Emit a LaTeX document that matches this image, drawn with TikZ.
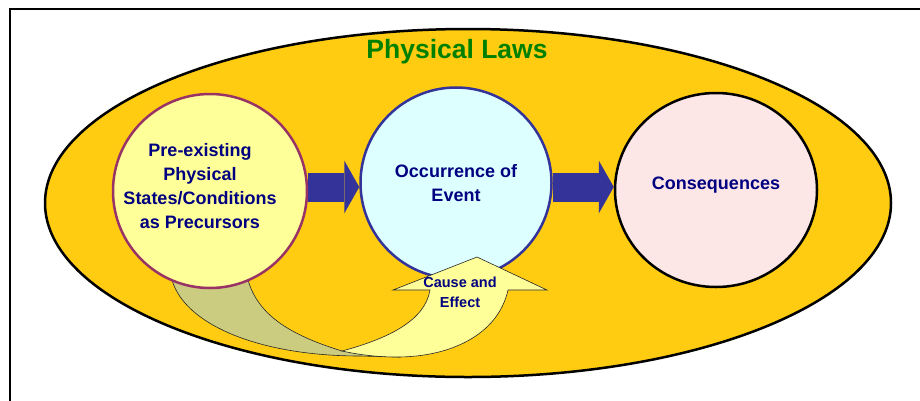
\documentclass[tikz,border=0pt]{standalone}
\usepackage{fontspec}
\setmainfont{Liberation Sans}
\usetikzlibrary{arrows.meta,calc,shapes.geometric}
\definecolor{gold}{HTML}{FFCC11}
\definecolor{navy}{HTML}{000080}
\definecolor{lawgreen}{HTML}{008000}
\definecolor{preFill}{HTML}{FFFF99}
\definecolor{preLine}{HTML}{993366}
\definecolor{occFill}{HTML}{DDFFFF}
\definecolor{occLine}{HTML}{333399}
\definecolor{conFill}{HTML}{FDE6E6}
\definecolor{arrowblue}{HTML}{333399}
\definecolor{olive}{HTML}{CCCC80}
\definecolor{lightyellow}{HTML}{FFFF99}
\pgfdeclarelayer{back}
\pgfsetlayers{back,main}
\tikzset{
  circ/.style={circle, inner sep=0pt, line width=2.5pt},
  label18/.style={font=\bfseries\fontsize{18}{24}\selectfont, text=navy, align=center, inner sep=0pt},
  blockarrow/.style={draw=arrowblue, line width=29pt,
     -{Triangle[length=15pt,width=53pt,line width=0pt]}},
  band/.style={draw=black!85, line width=0.6pt},
}
\begin{document}
\begin{tikzpicture}[x=1pt,y=-1pt]
\useasboundingbox (0,0) rectangle (920,400);
\begin{pgfonlayer}{back}
  \draw[line width=2pt] (10,402) -- (10,9) -- (922,9);
  \node[ellipse, draw=black, line width=2.5pt, fill=gold,
        minimum width=846pt, minimum height=348pt, inner sep=0pt] (laws) at (468,203) {};
  \filldraw[band, fill=olive] (172,280) .. controls (185,325) and (260,356) .. (360,356)
     -- (400,357) -- (342,351) .. controls (290,335) and (258,315) .. (248,280) -- cycle;
\end{pgfonlayer}
\node[font=\bfseries\fontsize{26.5}{30}\selectfont, text=lawgreen, inner sep=0pt] (title) at (457,52) {Physical Laws};

\node[circ, draw=preLine, fill=preFill, minimum size=194pt] (pre) at (210,191) {};
\node[circ, draw=occLine, fill=occFill, minimum size=191pt] (occ) at (456,183) {};
\node[ellipse, inner sep=0pt, line width=2.5pt, draw=black, fill=conFill,
      minimum width=202pt, minimum height=194pt] (con) at (716,190) {};

\node[label18] (pretext) at (200,186.5) {Pre-existing\\Physical\\States/Conditions\\as Precursors};
\node[label18] (occtext) at (456,183) {Occurrence of\\Event};
\node[label18] (context) at (716,185.5) {Consequences};

\begin{pgfonlayer}{back}
  \draw[blockarrow] (pre.east |- 0,187) -- (occ.west |- 0,187);
  \draw[blockarrow] (occ.east |- 0,187) -- (con.west |- 0,187);
\end{pgfonlayer}

\filldraw[band, fill=lightyellow] (342,351) .. controls (390,338) and (425,320) .. (430,290)
   -- (393,290) -- (477,257) -- (547,290) -- (508,290)
   .. controls (498,335) and (450,357) .. (397,357)
   .. controls (378,357) and (360,355) .. (342,351) -- cycle;
\node[font=\bfseries\fontsize{14.5}{20}\selectfont, text=navy, align=center, inner sep=0pt]
   (cause) at (460,292.7) {Cause and\\Effect};
\end{tikzpicture}
\end{document}
